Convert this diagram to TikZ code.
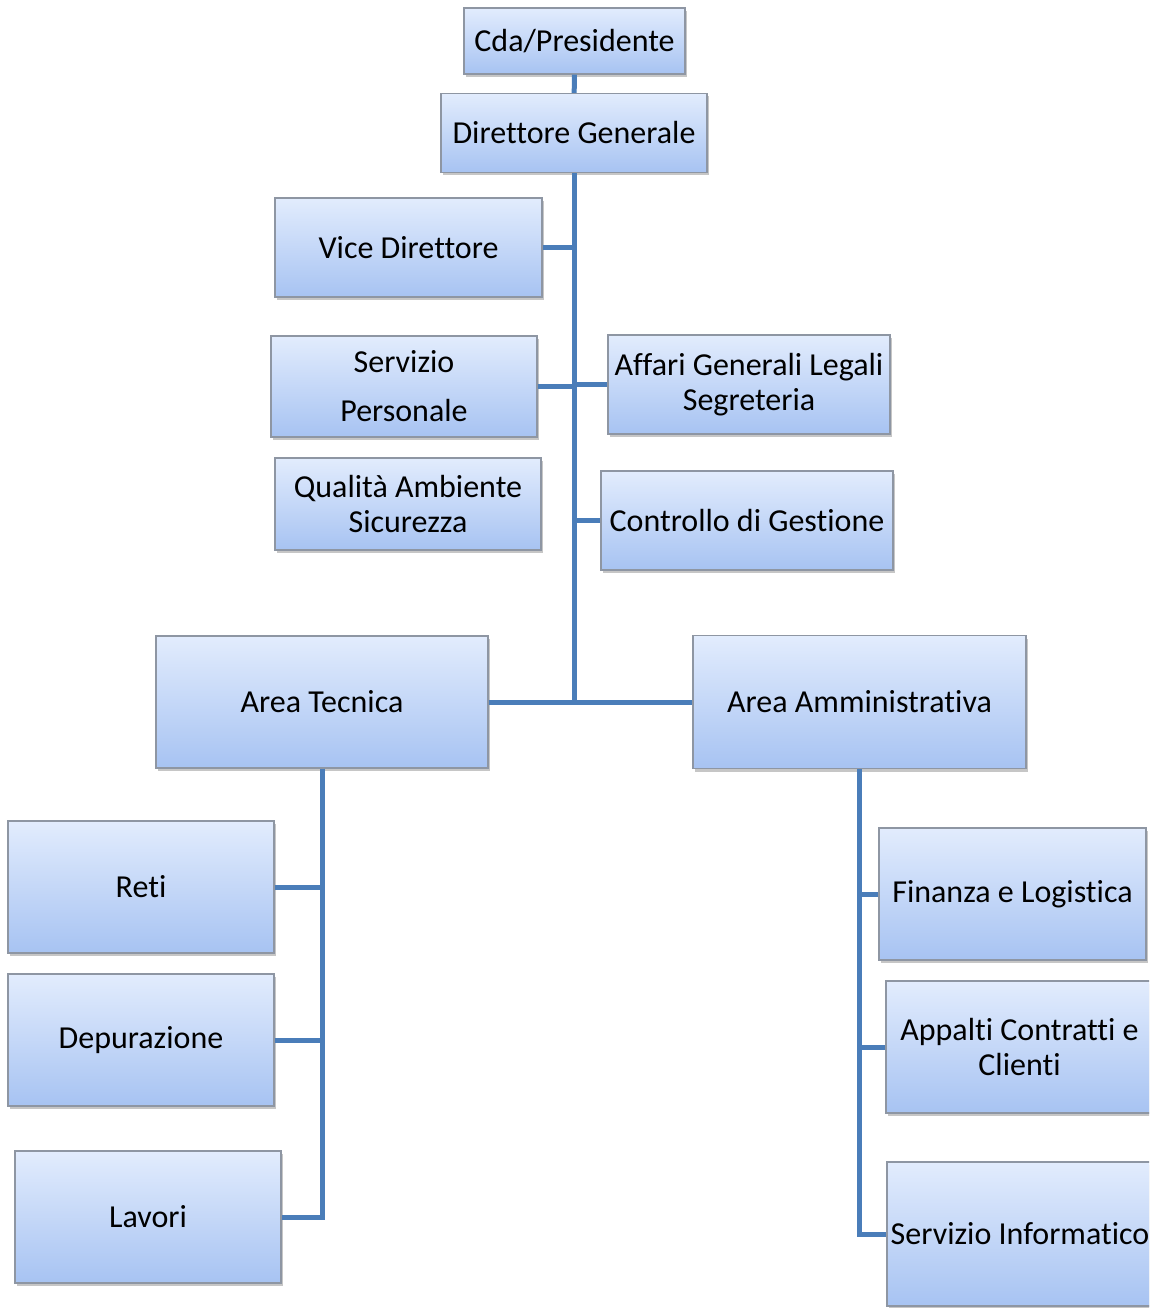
\documentclass[tikz,border=0pt]{standalone}
\usepackage{fontspec}
\setmainfont{Carlito}[Ligatures=NoCommon]
\usetikzlibrary{shadows}
\definecolor{boxtop}{HTML}{E2ECFD}
\definecolor{boxbottom}{HTML}{A7C3F2}
\definecolor{boxline}{HTML}{8E96A3}
\definecolor{wire}{HTML}{4A7DB9}
\tikzset{
  unit/.style={draw=boxline,line width=1.2pt,top color=boxtop,bottom color=boxbottom,
    drop shadow={shadow xshift=2pt,shadow yshift=-3pt,fill=black!50,opacity=.45},
    align=center,inner sep=0pt,font=\fontsize{32}{35}\selectfont},
  link/.style={draw=wire,line width=5pt}}

\begin{document}
\begin{tikzpicture}[x=1pt,y=-1pt]
  \clip (0,0) rectangle (1149,1308);
  % top of the chart
  \node [unit,minimum width=221pt,minimum height=66pt] (cda) at (574.5,41) {Cda/Presidente};
  \node [unit,minimum width=266pt,minimum height=79pt] (dg) at (574,133) {Direttore Generale};
  \node [unit,minimum width=267pt,minimum height=99pt] (vd) at (408.5,247.5) {Vice Direttore};
  \node [unit,minimum width=266pt,minimum height=101pt] (sp) at (404,386.5) {Servizio\\[14pt]Personale};
  \node [unit,minimum width=282pt,minimum height=99pt] (ag) at (749,384.5) {Affari Generali Legali\\Segreteria};
  \node [unit,minimum width=266pt,minimum height=92pt] (qas) at (408,504) {Qualità Ambiente\\Sicurezza};
  \node [unit,minimum width=292pt,minimum height=99pt] (cg) at (747,520.5) {Controllo di Gestione};
  % areas
  \node [unit,minimum width=332pt,minimum height=132pt] (at) at (322,702) {Area Tecnica};
  \node [unit,minimum width=333pt,minimum height=133pt] (aa) at (859.5,702) {Area Amministrativa};
  % area tecnica
  \node [unit,minimum width=266pt,minimum height=132pt] (reti) at (141,887) {Reti};
  \node [unit,minimum width=266pt,minimum height=132pt] (dep) at (141,1040) {Depurazione};
  \node [unit,minimum width=266pt,minimum height=132pt] (lav) at (148,1217) {Lavori};
  % area amministrativa
  \node [unit,minimum width=267pt,minimum height=132pt] (fin) at (1012.5,894) {Finanza e Logistica};
  \node [unit,minimum width=267pt,minimum height=132pt] (app) at (1019.5,1047) {Appalti Contratti e\\Clienti};
  \node [unit,minimum width=266pt,minimum height=144pt] (si) at (1020,1234) {Servizio Informatico};

  \coordinate (hub) at (574,702);
  \draw [link] (cda) -- (dg);
  \draw [link] (dg) -- (hub);
  \draw [link] (vd.east) -- (vd.east -| hub);
  \draw [link] (sp.east) -- (sp.east -| hub);
  \draw [link] (ag.west) -- (ag.west -| hub);
  \draw [link] (cg.west) -- (cg.west -| hub);
  \draw [link] (at.east) -- (hub) -- (aa.west);
  \draw [link] (at.south) |- (lav.east);
  \draw [link] (reti.east) -- (reti.east -| at.south);
  \draw [link] (dep.east) -- (dep.east -| at.south);
  \draw [link] (aa.south) |- (si.west);
  \draw [link] (fin.west) -- (fin.west -| aa.south);
  \draw [link] (app.west) -- (app.west -| aa.south);
\end{tikzpicture}
\end{document}
